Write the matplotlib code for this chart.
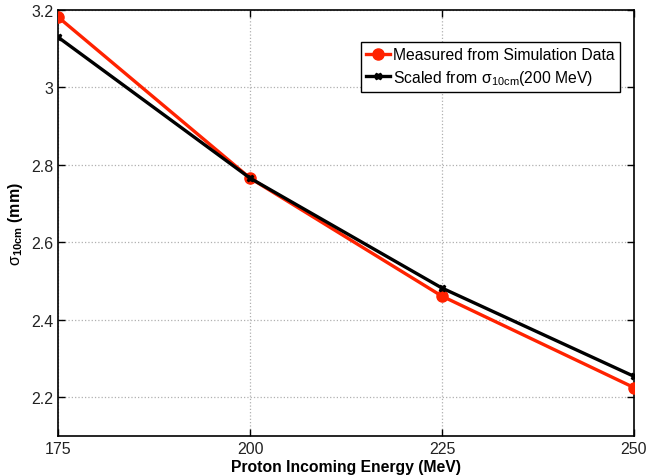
import numpy as np
import matplotlib
matplotlib.use('Agg')
import matplotlib.pyplot as plt

plt.rcParams['font.family'] = ['Liberation Sans', 'DejaVu Sans']
plt.rcParams['mathtext.fontset'] = 'custom'
plt.rcParams['mathtext.rm'] = 'Liberation Sans'
plt.rcParams['mathtext.it'] = 'Liberation Sans'
plt.rcParams['mathtext.bf'] = 'Liberation Sans:bold'

energy = [175, 200, 225, 250]
sigma_measured = [3.182, 2.766, 2.461, 2.225]
sigma_scaled = [3.130, 2.766, 2.482, 2.254]

fig = plt.figure(figsize=(6.46, 4.77), dpi=100)
ax = fig.add_axes([0.0898, 0.0839, 0.8916, 0.893])

ax.plot(energy, sigma_measured, color='#ff2200', lw=2.4, marker='o', ms=8,
        label='Measured from Simulation Data', zorder=3)
ax.plot(energy, sigma_scaled, color='black', lw=2.4, marker='X', ms=5,
        label=r'Scaled from $\mathrm{\sigma}_{\mathrm{10cm}}$(200 MeV)', zorder=4)

ax.set_xlim(175, 250)
ax.set_ylim(2.1, 3.2)
ax.set_xticks([175, 200, 225, 250])
ax.set_yticks([2.2, 2.4, 2.6, 2.8, 3.0, 3.2])
ax.set_yticklabels(['2.2', '2.4', '2.6', '2.8', '3', '3.2'])
ax.tick_params(direction='in', top=True, right=True, labelsize=11.5, length=5,
               width=1, labelcolor='#222222')
ax.grid(True, linestyle=':', color='#b0b0b0', lw=0.9)
for sp in ax.spines.values():
    sp.set_linewidth(1.2)

ax.set_xlabel('Proton Incoming Energy (MeV)', fontsize=11.3, fontweight='bold', labelpad=2)
ax.set_ylabel(r'$\mathrm{\sigma}_{\mathbf{10cm}}$ (mm)', fontsize=11.5, fontweight='bold', labelpad=4)

leg = ax.legend(loc='upper right', bbox_to_anchor=(0.976, 0.925), fontsize=11.3,
                fancybox=False, edgecolor='black', framealpha=1,
                handlelength=1.5, handletextpad=0.2, borderpad=0.35, labelspacing=0.35,
                borderaxespad=0)
leg.get_frame().set_linewidth(1.0)

fig.savefig('out.png', dpi=100)
